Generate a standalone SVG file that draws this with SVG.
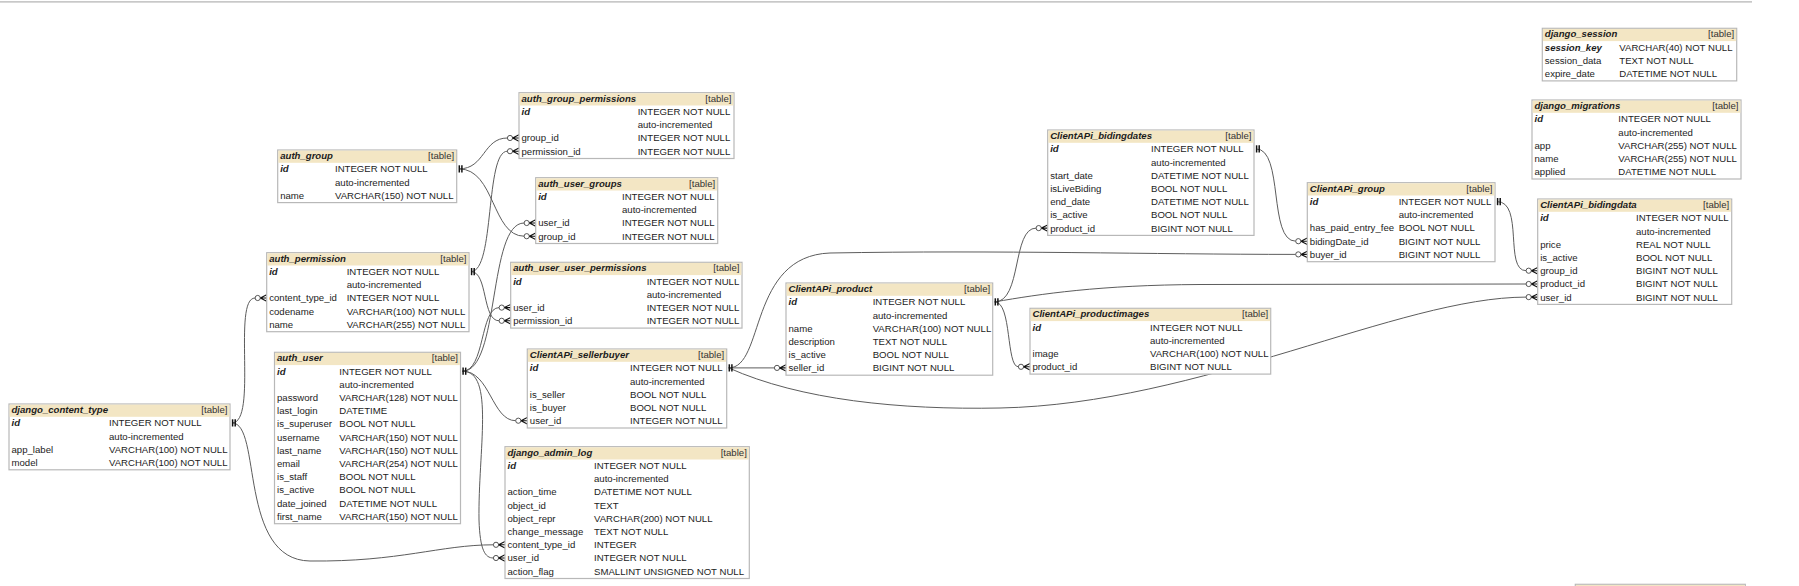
<svg xmlns="http://www.w3.org/2000/svg" xmlns:xlink="http://www.w3.org/1999/xlink" width="1799" height="586" viewBox="0 0 1799 586">
<style>
.box{fill:#fff;stroke:#b8b8b8;stroke-width:1.2}
.hdr{fill:#f3e6c4}
text{font-family:"Liberation Sans",Arial,sans-serif;font-size:9.6px;fill:#1c1c1c}
.tn,.pk{font-weight:bold;font-style:italic}
.tag{text-anchor:end;fill:#333}
.conn path{fill:none;stroke:#5c5c5c;stroke-width:1}
.pkm line{stroke:#111;stroke-width:1.5}
.fkm circle{fill:#fff;stroke:#444;stroke-width:0.9}
.fkm path{fill:none;stroke:#111;stroke-width:1.1}
</style>
<defs>
<g id="pkm" class="pkm"><line x1="2.6" y1="-3.6" x2="2.6" y2="3.6"/><line x1="5.2" y1="-3.6" x2="5.2" y2="3.6"/></g>
<g id="fkm" class="fkm"><circle cx="-9" cy="0" r="2.6"/><path d="M-6.4,0 L0,-3.2 M-6.4,0 L0,0 M-6.4,0 L0,3.2"/></g>
</defs>
<rect x="0" y="1" width="1752" height="1.7" fill="#c8c8c8"/>

<g id="connectors" class="conn">
<path d="M459,168.9 C485,168.9 483,138 507.4,138"/>
<path d="M471,271.6 C495,271.6 485,151.2 507.4,151.2"/>
<path d="M459,168.9 C495,168.9 492,236.2 524.1,236.2"/>
<path d="M462.5,371.2 C500,371.2 488,223 524.1,223"/>
<path d="M462.5,371.2 C485,371.2 480,307.6 499.1,307.6"/>
<path d="M471,271.6 C488,271.6 482,320.8 499.1,320.8"/>
<path d="M232,422.9 C258,422.9 232,298 255.1,298"/>
<path d="M232,422.9 C262,422.9 238,560 310,561 C400,562 440,544.8 493.4,544.8"/>
<path d="M462.5,371.2 C495,371.2 478,450 479,520 C480,550 485,558 493.4,558"/>
<path d="M462.5,371.2 C490,371.2 492,420.7 515.7,420.7"/>
<path d="M728.7,367.9 L774.4,367.9"/>
<path d="M728.7,367.9 C765,367.9 748,256 830,253 C1000,250 1150,254.4 1295.7,254.4"/>
<path d="M728.7,367.9 C800,400 900,410 1000,408 C1200,404 1400,297.1 1526.1,297.1"/>
<path d="M994.7,301.9 C1022,301.9 1012,228.1 1036.1,228.1"/>
<path d="M994.7,301.9 C1012,301.9 1006,366.8 1018.4,366.8"/>
<path d="M994.7,301.9 C1040,294 1100,285 1200,284.5 L1526.1,284"/>
<path d="M1256,148.9 C1284,148.9 1268,241.2 1295.7,241.2"/>
<path d="M1497,201.6 C1524,201.6 1504,270.7 1526.1,270.7"/>
<use xlink:href="#pkm" x="456.7" y="168.9"/>
<use xlink:href="#pkm" x="469" y="271.6"/>
<use xlink:href="#pkm" x="460.5" y="371.2"/>
<use xlink:href="#pkm" x="230" y="422.9"/>
<use xlink:href="#pkm" x="726.7" y="367.9"/>
<use xlink:href="#pkm" x="992.7" y="301.9"/>
<use xlink:href="#pkm" x="1254" y="148.9"/>
<use xlink:href="#pkm" x="1495" y="201.6"/>
<use xlink:href="#fkm" x="519" y="138"/>
<use xlink:href="#fkm" x="519" y="151.2"/>
<use xlink:href="#fkm" x="535.7" y="223"/>
<use xlink:href="#fkm" x="535.7" y="236.2"/>
<use xlink:href="#fkm" x="510.7" y="307.6"/>
<use xlink:href="#fkm" x="510.7" y="320.8"/>
<use xlink:href="#fkm" x="266.7" y="298"/>
<use xlink:href="#fkm" x="505" y="544.8"/>
<use xlink:href="#fkm" x="505" y="558"/>
<use xlink:href="#fkm" x="527.3" y="420.7"/>
<use xlink:href="#fkm" x="786" y="367.9"/>
<use xlink:href="#fkm" x="1307.3" y="254.4"/>
<use xlink:href="#fkm" x="1537.7" y="297.1"/>
<use xlink:href="#fkm" x="1047.7" y="228.1"/>
<use xlink:href="#fkm" x="1030" y="366.8"/>
<use xlink:href="#fkm" x="1537.7" y="284"/>
<use xlink:href="#fkm" x="1307.3" y="241.2"/>
<use xlink:href="#fkm" x="1537.7" y="270.7"/>
</g>

<g id="auth_group">
<rect class="box" x="277.7" y="150" width="179" height="52.6"/>
<rect class="hdr" x="278.3" y="150.6" width="177.8" height="12.2"/>
<text class="tn" x="280.2" y="159">auth_group</text><text class="tag" x="454.2" y="159">[table]</text>
<text class="pk" x="280.2" y="172.3">id</text><text x="335" y="172.3">INTEGER NOT NULL</text>
<text x="335" y="185.5">auto-incremented</text>
<text x="280.2" y="198.7">name</text><text x="335" y="198.7">VARCHAR(150) NOT NULL</text>
</g>

<g id="auth_permission">
<rect class="box" x="266.7" y="252.7" width="202.3" height="79"/>
<rect class="hdr" x="267.3" y="253.3" width="201.1" height="12.2"/>
<text class="tn" x="269.2" y="261.7">auth_permission</text><text class="tag" x="466.5" y="261.7">[table]</text>
<text class="pk" x="269.2" y="275">id</text><text x="346.7" y="275">INTEGER NOT NULL</text>
<text x="346.7" y="288.2">auto-incremented</text>
<text x="269.2" y="301.4">content_type_id</text><text x="346.7" y="301.4">INTEGER NOT NULL</text>
<text x="269.2" y="314.6">codename</text><text x="346.7" y="314.6">VARCHAR(100) NOT NULL</text>
<text x="269.2" y="327.8">name</text><text x="346.7" y="327.8">VARCHAR(255) NOT NULL</text>
</g>

<g id="auth_user">
<rect class="box" x="274.5" y="352.3" width="186" height="171.4"/>
<rect class="hdr" x="275.1" y="352.9" width="184.8" height="12.2"/>
<text class="tn" x="277" y="361.3">auth_user</text><text class="tag" x="458" y="361.3">[table]</text>
<text class="pk" x="277" y="374.6">id</text><text x="339.3" y="374.6">INTEGER NOT NULL</text>
<text x="339.3" y="387.8">auto-incremented</text>
<text x="277" y="401">password</text><text x="339.3" y="401">VARCHAR(128) NOT NULL</text>
<text x="277" y="414.2">last_login</text><text x="339.3" y="414.2">DATETIME</text>
<text x="277" y="427.4">is_superuser</text><text x="339.3" y="427.4">BOOL NOT NULL</text>
<text x="277" y="440.6">username</text><text x="339.3" y="440.6">VARCHAR(150) NOT NULL</text>
<text x="277" y="453.8">last_name</text><text x="339.3" y="453.8">VARCHAR(150) NOT NULL</text>
<text x="277" y="467">email</text><text x="339.3" y="467">VARCHAR(254) NOT NULL</text>
<text x="277" y="480.2">is_staff</text><text x="339.3" y="480.2">BOOL NOT NULL</text>
<text x="277" y="493.4">is_active</text><text x="339.3" y="493.4">BOOL NOT NULL</text>
<text x="277" y="506.6">date_joined</text><text x="339.3" y="506.6">DATETIME NOT NULL</text>
<text x="277" y="519.8">first_name</text><text x="339.3" y="519.8">VARCHAR(150) NOT NULL</text>
</g>

<g id="django_content_type">
<rect class="box" x="9" y="404" width="221" height="65.8"/>
<rect class="hdr" x="9.6" y="404.6" width="219.8" height="12.2"/>
<text class="tn" x="11.5" y="413">django_content_type</text><text class="tag" x="227.5" y="413">[table]</text>
<text class="pk" x="11.5" y="426.3">id</text><text x="109" y="426.3">INTEGER NOT NULL</text>
<text x="109" y="439.5">auto-incremented</text>
<text x="11.5" y="452.7">app_label</text><text x="109" y="452.7">VARCHAR(100) NOT NULL</text>
<text x="11.5" y="465.9">model</text><text x="109" y="465.9">VARCHAR(100) NOT NULL</text>
</g>

<g id="auth_group_permissions">
<rect class="box" x="519" y="92.7" width="215" height="65.8"/>
<rect class="hdr" x="519.6" y="93.3" width="213.8" height="12.2"/>
<text class="tn" x="521.5" y="101.7">auth_group_permissions</text><text class="tag" x="731.5" y="101.7">[table]</text>
<text class="pk" x="521.5" y="115">id</text><text x="637.7" y="115">INTEGER NOT NULL</text>
<text x="637.7" y="128.2">auto-incremented</text>
<text x="521.5" y="141.4">group_id</text><text x="637.7" y="141.4">INTEGER NOT NULL</text>
<text x="521.5" y="154.6">permission_id</text><text x="637.7" y="154.6">INTEGER NOT NULL</text>
</g>

<g id="auth_user_groups">
<rect class="box" x="535.7" y="177.7" width="182" height="65.8"/>
<rect class="hdr" x="536.3" y="178.3" width="180.8" height="12.2"/>
<text class="tn" x="538.2" y="186.7">auth_user_groups</text><text class="tag" x="715.2" y="186.7">[table]</text>
<text class="pk" x="538.2" y="200">id</text><text x="622" y="200">INTEGER NOT NULL</text>
<text x="622" y="213.2">auto-incremented</text>
<text x="538.2" y="226.4">user_id</text><text x="622" y="226.4">INTEGER NOT NULL</text>
<text x="538.2" y="239.6">group_id</text><text x="622" y="239.6">INTEGER NOT NULL</text>
</g>

<g id="auth_user_user_permissions">
<rect class="box" x="510.7" y="262.3" width="231.3" height="65.8"/>
<rect class="hdr" x="511.3" y="262.9" width="230.1" height="12.2"/>
<text class="tn" x="513.2" y="271.3">auth_user_user_permissions</text><text class="tag" x="739.5" y="271.3">[table]</text>
<text class="pk" x="513.2" y="284.6">id</text><text x="646.7" y="284.6">INTEGER NOT NULL</text>
<text x="646.7" y="297.8">auto-incremented</text>
<text x="513.2" y="311">user_id</text><text x="646.7" y="311">INTEGER NOT NULL</text>
<text x="513.2" y="324.2">permission_id</text><text x="646.7" y="324.2">INTEGER NOT NULL</text>
</g>

<g id="ClientAPi_sellerbuyer">
<rect class="box" x="527.3" y="349" width="199.4" height="79"/>
<rect class="hdr" x="527.9" y="349.6" width="198.2" height="12.2"/>
<text class="tn" x="529.8" y="358">ClientAPi_sellerbuyer</text><text class="tag" x="724.2" y="358">[table]</text>
<text class="pk" x="529.8" y="371.3">id</text><text x="630" y="371.3">INTEGER NOT NULL</text>
<text x="630" y="384.5">auto-incremented</text>
<text x="529.8" y="397.7">is_seller</text><text x="630" y="397.7">BOOL NOT NULL</text>
<text x="529.8" y="410.9">is_buyer</text><text x="630" y="410.9">BOOL NOT NULL</text>
<text x="529.8" y="424.1">user_id</text><text x="630" y="424.1">INTEGER NOT NULL</text>
</g>

<g id="django_admin_log">
<rect class="box" x="505" y="446.7" width="244.3" height="131.8"/>
<rect class="hdr" x="505.6" y="447.3" width="243.1" height="12.2"/>
<text class="tn" x="507.5" y="455.7">django_admin_log</text><text class="tag" x="746.8" y="455.7">[table]</text>
<text class="pk" x="507.5" y="469">id</text><text x="594" y="469">INTEGER NOT NULL</text>
<text x="594" y="482.2">auto-incremented</text>
<text x="507.5" y="495.4">action_time</text><text x="594" y="495.4">DATETIME NOT NULL</text>
<text x="507.5" y="508.6">object_id</text><text x="594" y="508.6">TEXT</text>
<text x="507.5" y="521.8">object_repr</text><text x="594" y="521.8">VARCHAR(200) NOT NULL</text>
<text x="507.5" y="535">change_message</text><text x="594" y="535">TEXT NOT NULL</text>
<text x="507.5" y="548.2">content_type_id</text><text x="594" y="548.2">INTEGER</text>
<text x="507.5" y="561.4">user_id</text><text x="594" y="561.4">INTEGER NOT NULL</text>
<text x="507.5" y="574.6">action_flag</text><text x="594" y="574.6">SMALLINT UNSIGNED NOT NULL</text>
</g>

<g id="ClientAPi_bidingdates">
<rect class="box" x="1047.7" y="130" width="206.3" height="105.4"/>
<rect class="hdr" x="1048.3" y="130.6" width="205.1" height="12.2"/>
<text class="tn" x="1050.2" y="139">ClientAPi_bidingdates</text><text class="tag" x="1251.5" y="139">[table]</text>
<text class="pk" x="1050.2" y="152.3">id</text><text x="1151" y="152.3">INTEGER NOT NULL</text>
<text x="1151" y="165.5">auto-incremented</text>
<text x="1050.2" y="178.7">start_date</text><text x="1151" y="178.7">DATETIME NOT NULL</text>
<text x="1050.2" y="191.9">isLiveBiding</text><text x="1151" y="191.9">BOOL NOT NULL</text>
<text x="1050.2" y="205.1">end_date</text><text x="1151" y="205.1">DATETIME NOT NULL</text>
<text x="1050.2" y="218.3">is_active</text><text x="1151" y="218.3">BOOL NOT NULL</text>
<text x="1050.2" y="231.5">product_id</text><text x="1151" y="231.5">BIGINT NOT NULL</text>
</g>

<g id="ClientAPi_product">
<rect class="box" x="786" y="283" width="206.7" height="92.2"/>
<rect class="hdr" x="786.6" y="283.6" width="205.5" height="12.2"/>
<text class="tn" x="788.5" y="292">ClientAPi_product</text><text class="tag" x="990.2" y="292">[table]</text>
<text class="pk" x="788.5" y="305.3">id</text><text x="872.7" y="305.3">INTEGER NOT NULL</text>
<text x="872.7" y="318.5">auto-incremented</text>
<text x="788.5" y="331.7">name</text><text x="872.7" y="331.7">VARCHAR(100) NOT NULL</text>
<text x="788.5" y="344.9">description</text><text x="872.7" y="344.9">TEXT NOT NULL</text>
<text x="788.5" y="358.1">is_active</text><text x="872.7" y="358.1">BOOL NOT NULL</text>
<text x="788.5" y="371.3">seller_id</text><text x="872.7" y="371.3">BIGINT NOT NULL</text>
</g>

<g id="ClientAPi_productimages">
<rect class="box" x="1030" y="308.3" width="240.7" height="65.8"/>
<rect class="hdr" x="1030.6" y="308.9" width="239.5" height="12.2"/>
<text class="tn" x="1032.5" y="317.3">ClientAPi_productimages</text><text class="tag" x="1268.2" y="317.3">[table]</text>
<text class="pk" x="1032.5" y="330.6">id</text><text x="1150" y="330.6">INTEGER NOT NULL</text>
<text x="1150" y="343.8">auto-incremented</text>
<text x="1032.5" y="357">image</text><text x="1150" y="357">VARCHAR(100) NOT NULL</text>
<text x="1032.5" y="370.2">product_id</text><text x="1150" y="370.2">BIGINT NOT NULL</text>
</g>

<g id="ClientAPi_group">
<rect class="box" x="1307.3" y="182.7" width="187.7" height="79"/>
<rect class="hdr" x="1307.9" y="183.3" width="186.5" height="12.2"/>
<text class="tn" x="1309.8" y="191.7">ClientAPi_group</text><text class="tag" x="1492.5" y="191.7">[table]</text>
<text class="pk" x="1309.8" y="205">id</text><text x="1398.7" y="205">INTEGER NOT NULL</text>
<text x="1398.7" y="218.2">auto-incremented</text>
<text x="1309.8" y="231.4">has_paid_entry_fee</text><text x="1398.7" y="231.4">BOOL NOT NULL</text>
<text x="1309.8" y="244.6">bidingDate_id</text><text x="1398.7" y="244.6">BIGINT NOT NULL</text>
<text x="1309.8" y="257.8">buyer_id</text><text x="1398.7" y="257.8">BIGINT NOT NULL</text>
</g>

<g id="ClientAPi_bidingdata">
<rect class="box" x="1537.7" y="199" width="194" height="105.4"/>
<rect class="hdr" x="1538.3" y="199.6" width="192.8" height="12.2"/>
<text class="tn" x="1540.2" y="208">ClientAPi_bidingdata</text><text class="tag" x="1729.2" y="208">[table]</text>
<text class="pk" x="1540.2" y="221.3">id</text><text x="1636" y="221.3">INTEGER NOT NULL</text>
<text x="1636" y="234.5">auto-incremented</text>
<text x="1540.2" y="247.7">price</text><text x="1636" y="247.7">REAL NOT NULL</text>
<text x="1540.2" y="260.9">is_active</text><text x="1636" y="260.9">BOOL NOT NULL</text>
<text x="1540.2" y="274.1">group_id</text><text x="1636" y="274.1">BIGINT NOT NULL</text>
<text x="1540.2" y="287.3">product_id</text><text x="1636" y="287.3">BIGINT NOT NULL</text>
<text x="1540.2" y="300.5">user_id</text><text x="1636" y="300.5">BIGINT NOT NULL</text>
</g>

<g id="django_migrations">
<rect class="box" x="1532" y="100" width="209" height="79"/>
<rect class="hdr" x="1532.6" y="100.6" width="207.8" height="12.2"/>
<text class="tn" x="1534.5" y="109">django_migrations</text><text class="tag" x="1738.5" y="109">[table]</text>
<text class="pk" x="1534.5" y="122.3">id</text><text x="1618.3" y="122.3">INTEGER NOT NULL</text>
<text x="1618.3" y="135.5">auto-incremented</text>
<text x="1534.5" y="148.7">app</text><text x="1618.3" y="148.7">VARCHAR(255) NOT NULL</text>
<text x="1534.5" y="161.9">name</text><text x="1618.3" y="161.9">VARCHAR(255) NOT NULL</text>
<text x="1534.5" y="175.1">applied</text><text x="1618.3" y="175.1">DATETIME NOT NULL</text>
</g>

<g id="django_session">
<rect class="box" x="1542.3" y="28.3" width="194.4" height="52.6"/>
<rect class="hdr" x="1542.9" y="28.9" width="193.2" height="12.2"/>
<text class="tn" x="1544.8" y="37.3">django_session</text><text class="tag" x="1734.2" y="37.3">[table]</text>
<text class="pk" x="1544.8" y="50.6">session_key</text><text x="1619.3" y="50.6">VARCHAR(40) NOT NULL</text>
<text x="1544.8" y="63.8">session_data</text><text x="1619.3" y="63.8">TEXT NOT NULL</text>
<text x="1544.8" y="77">expire_date</text><text x="1619.3" y="77">DATETIME NOT NULL</text>
</g>

<g id="partial_table">
<rect class="box" x="1575.3" y="584.3" width="170" height="20"/>
<rect class="hdr" x="1575.9" y="584.9" width="168.8" height="12"/>
</g>
</svg>
